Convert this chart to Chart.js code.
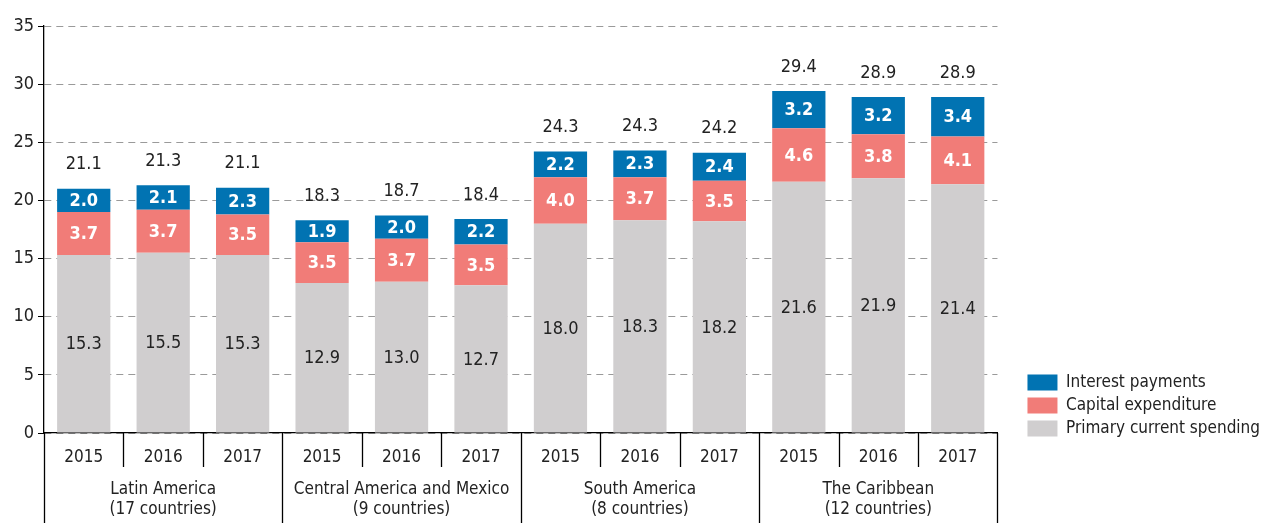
<!DOCTYPE html>
<html lang="en">
<head>
<meta charset="UTF-8">
<title>Public spending composition</title>
<style>
  body { margin: 0; background: #fff; }
  #wrap { width: 1268px; height: 523px; position: relative; }
</style>
</head>
<body>
<div id="wrap"><canvas id="chart"></canvas></div>

<script src="https://cdn.jsdelivr.net/npm/chart.js"></script>
<script>
  const FONT = "'Liberation Sans Narrow', 'DejaVu Sans Condensed', 'Roboto Condensed', sans-serif";

  const years = ['2015', '2016', '2017', '2015', '2016', '2017', '2015', '2016', '2017', '2015', '2016', '2017'];
  const groups = [
    ['Latin America', '(17 countries)'],
    ['Central America and Mexico', '(9 countries)'],
    ['South America', '(8 countries)'],
    ['The Caribbean', '(12 countries)']
  ];
  const primarySpending = [15.3, 15.5, 15.3, 12.9, 13.0, 12.7, 18.0, 18.3, 18.2, 21.6, 21.9, 21.4];
  const capitalSpending = [3.7, 3.7, 3.5, 3.5, 3.7, 3.5, 4.0, 3.7, 3.5, 4.6, 3.8, 4.1];
  const interestPayments = [2.0, 2.1, 2.3, 1.9, 2.0, 2.2, 2.2, 2.3, 2.4, 3.2, 3.2, 3.4];
  const totals = [21.1, 21.3, 21.1, 18.3, 18.7, 18.4, 24.3, 24.3, 24.2, 29.4, 28.9, 28.9];
  const yTicks = [0, 5, 10, 15, 20, 25, 30, 35];

  // labels on bars + grouped x axis
  const extras = {
    id: 'extras',
    afterInit(chart) {
      // widen the legend box so the plot ends where the reference does
      const lg = chart.legend;
      const fit = lg.fit;
      lg.fit = function () { fit.call(this); this.width += 18; };
    },
    afterLayout(chart) {
      chart.legend.left += 24;
      chart.legend.right += 24;
      chart.legend.top += 10;
      chart.legend.bottom += 10;
    },
    afterDatasetsDraw(chart) {
      const ctx = chart.ctx;
      ctx.save();
      ctx.textAlign = 'center';
      ctx.textBaseline = 'middle';
      chart.data.datasets.forEach((ds, di) => {
        const meta = chart.getDatasetMeta(di);
        meta.data.forEach((bar, i) => {
          const mid = (bar.y + bar.base) / 2;
          if (di === 0) {
            ctx.font = '18px ' + FONT;
            ctx.fillStyle = '#222';
          } else {
            ctx.font = 'bold 18px ' + FONT;
            ctx.fillStyle = '#fff';
          }
          ctx.fillText(ds.data[i].toFixed(1), bar.x, mid + 1);
        });
      });
      const top = chart.getDatasetMeta(2);
      ctx.font = '18px ' + FONT;
      ctx.fillStyle = '#222';
      top.data.forEach((bar, i) => {
        ctx.fillText(totals[i].toFixed(1), bar.x, bar.y - 24);
      });
      ctx.restore();
    },
    afterDraw(chart) {
      const ctx = chart.ctx;
      const x = chart.scales.x;
      const base = chart.chartArea.bottom;
      const step = x.getPixelForValue(1) - x.getPixelForValue(0);
      ctx.save();
      ctx.strokeStyle = '#000';
      ctx.lineWidth = 1.3;
      for (let i = 0; i <= years.length; i++) {
        const px = Math.round(x.getPixelForValue(i) - step / 2) + 0.5;
        const end = i % 3 === 0 ? chart.height : base + 34;
        ctx.beginPath();
        ctx.moveTo(px, base);
        ctx.lineTo(px, end);
        ctx.stroke();
      }
      ctx.fillStyle = '#222';
      ctx.font = '17px ' + FONT;
      ctx.textAlign = 'center';
      ctx.textBaseline = 'middle';
      groups.forEach((g, gi) => {
        const cx = x.getPixelForValue(gi * 3 + 1);
        ctx.fillText(g[0], cx, base + 57);
        ctx.fillText(g[1], cx, base + 77);
      });
      ctx.restore();
    }
  };

  new Chart(document.getElementById('chart'), {
    type: 'bar',
    data: {
      labels: years,
      datasets: [{
        label: 'Primary current spending',
        data: primarySpending,
        backgroundColor: '#D0CECF'
      }, {
        label: 'Capital expenditure',
        data: capitalSpending,
        backgroundColor: '#F17C78'
      }, {
        label: 'Interest payments',
        data: interestPayments,
        backgroundColor: '#0173B2'
      }]
    },
    options: {
      responsive: true,
      maintainAspectRatio: false,
      animation: false,
      barPercentage: 0.67,
      categoryPercentage: 1,
      layout: { padding: { top: 26, right: 4, bottom: 0, left: 0 } },
      scales: {
        x: {
          stacked: true,
          afterFit(s) { s.height = 90; },
          border: { color: '#000', width: 1.3 },
          grid: { display: false },
          ticks: { color: '#222', padding: 6, font: { family: FONT, size: 17 } }
        },
        y: {
          stacked: true,
          min: 0,
          max: 35,
          afterFit(s) { s.width = 44; },
          afterBuildTicks(s) { s.ticks = yTicks.map(v => ({ value: v })); },
          border: { color: '#000', width: 1.3, dash: [7, 5] },
          grid: {
            color: '#9a9a9a',
            tickBorderDash: [],
            tickColor: '#000',
            tickLength: 6
          },
          ticks: { color: '#222', padding: 4, font: { family: FONT, size: 18 } }
        }
      },
      plugins: {
        legend: {
          position: 'right',
          align: 'end',
          fullSize: false,
          reverse: true,
          labels: {
            boxWidth: 30,
            boxHeight: 16,
            padding: 6,
            color: '#222',
            font: { family: FONT, size: 17 }
          }
        },
        tooltip: { enabled: false }
      }
    },
    plugins: [extras]
  });
</script>
</body>
</html>
